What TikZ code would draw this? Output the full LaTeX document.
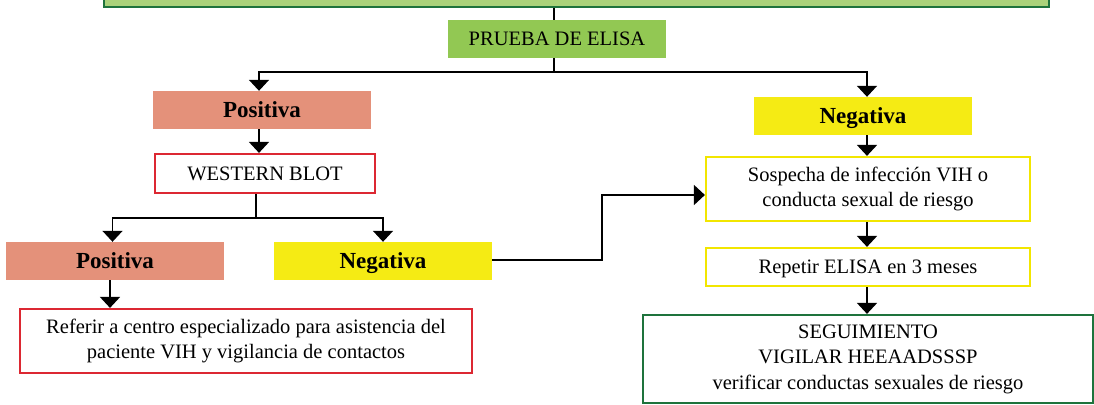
\documentclass[tikz,border=0pt]{standalone}
\usepackage{fontspec}
\setmainfont{Liberation Serif}
\usepackage{xcolor}
\usetikzlibrary{arrows.meta,positioning}
\definecolor{topgreen}{RGB}{170,210,122}
\definecolor{elisagreen}{RGB}{146,200,83}
\definecolor{darkgreen}{RGB}{30,115,60}
\definecolor{salmon}{RGB}{228,145,122}
\definecolor{yellowfill}{RGB}{245,235,20}
\definecolor{yellowline}{RGB}{242,230,0}
\definecolor{redline}{RGB}{220,40,50}
\tikzset{
  connect/.style={line width=1.8pt},
  arrowline/.style={connect,-{Triangle[width=20pt,length=11pt]}},
  fillbox/.style={inner sep=0pt,minimum width=218,minimum height=38,text depth=0pt},
  posbox/.style={fillbox,fill=salmon,font=\fontsize{23}{26}\selectfont\bfseries},
  negbox/.style={fillbox,fill=yellowfill,font=\fontsize{23}{26}\selectfont\bfseries},
  linebox/.style={draw,line width=2.2pt,fill=white,inner sep=0pt},
}
\begin{document}
\begin{tikzpicture}[x=1pt,y=-1pt, every node/.style={font=\fontsize{20.5}{25.5}\selectfont,align=center}]
\useasboundingbox (0,0) rectangle (1094,404);
% upper part
\node (top) [draw=darkgreen,fill=topgreen,line width=2.2pt,minimum width=945,minimum height=30] at (576.5,-8) {};
\node (elisa) [fill=elisagreen,inner sep=0pt,minimum width=218,minimum height=38,text depth=0pt] at (557,39) {PRUEBA DE ELISA};
\coordinate (trunk) at (554,72);
\node (pos) [posbox] at (262,110) {Positiva};
\node (neg) [negbox] at (863,116) {Negativa};
\node (wb) [linebox,draw=redline,minimum width=220,minimum height=39,text depth=0pt] at (265,173.5) {WESTERN BLOT};
% western blot result
\coordinate (split) at (256,218);
\node (pos2) [posbox] at (115,261) {Positiva};
\node (neg2) [negbox] at (383,261) {Negativa};
\node (refer) [linebox,draw=redline,minimum width=452,minimum height=64] at (246,341) {Referir a centro especializado para asistencia del\\paciente VIH y vigilancia de contactos};
% negative branch
\node (sosp) [linebox,draw=yellowline,minimum width=324,minimum height=64] at (868,189) {Sospecha de infección VIH o\\conducta sexual de riesgo};
\node (rep) [linebox,draw=yellowline,minimum width=324,minimum height=38,text depth=0pt] at (868,267) {Repetir ELISA en 3 meses};
\node (seg) [linebox,draw=darkgreen,minimum width=450,minimum height=88] at (868,359) {SEGUIMIENTO\\VIGILAR HEEAADSSSP\\verificar conductas sexuales de riesgo};
% connectors
\draw[connect] (top.south -| trunk) -- (elisa.north -| trunk);
\draw[connect] (elisa.south -| trunk) -- (trunk);
\draw[arrowline] (trunk) -| ([xshift=-3pt]pos.north);
\draw[arrowline] (trunk) -| ([xshift=4pt]neg.north);
\draw[arrowline] ([xshift=-3pt]pos.south) -- ([xshift=-6pt]wb.north);
\draw[connect] (wb.south -| split) -- (split);
\draw[arrowline] (split) -| ([xshift=-2.5pt]pos2.north);
\draw[arrowline] (split) -| (neg2.north);
\draw[arrowline] ([xshift=-5pt]pos2.south) -- (refer.north -| {(110,0)});
\draw[arrowline] ([yshift=1pt]neg2.east) -| (602,195) -- (sosp.west |- {(0,195)});
\draw[arrowline] ([xshift=4pt]neg.south) -- ([xshift=-1pt]sosp.north);
\draw[arrowline] ([xshift=-1pt]sosp.south) -- ([xshift=-1pt]rep.north);
\draw[arrowline] ([xshift=-1pt]rep.south) -- ([xshift=-1pt]seg.north);
\end{tikzpicture}
\end{document}
